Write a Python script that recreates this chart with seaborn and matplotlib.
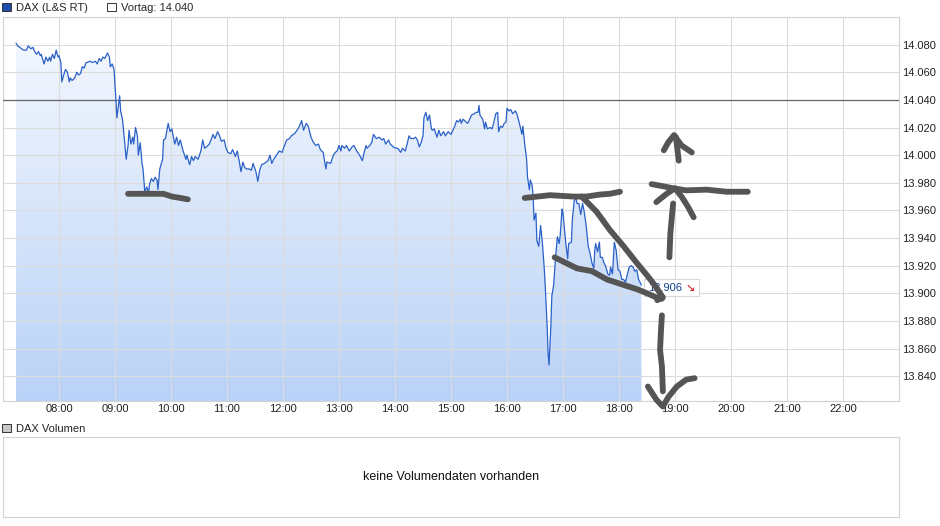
import numpy as np
import pandas as pd
import matplotlib
matplotlib.use("Agg")
import matplotlib.pyplot as plt
import seaborn as sns
from matplotlib.colors import LinearSegmentedColormap
from matplotlib.patches import Patch
from matplotlib.offsetbox import TextArea, HPacker, AnnotationBbox

# ─── DATA ────────────────────────────────────────────────────
times = [
    "07:14", "07:16", "07:22", "07:25", "07:27", "07:30", "07:32", "07:34", "07:36", "07:38",
    "07:40", "07:41", "07:44", "07:46", "07:48", "07:50", "07:51", "07:53", "07:55", "07:57",
    "07:59", "08:00", "08:02", "08:03", "08:05", "08:07", "08:09", "08:11", "08:12", "08:14",
    "08:17", "08:19", "08:21", "08:23", "08:25", "08:27", "08:29", "08:30", "08:33", "08:36",
    "08:39", "08:41", "08:43", "08:45", "08:47", "08:49", "08:52", "08:54", "08:55", "08:57",
    "08:59", "09:00", "09:01", "09:02", "09:04", "09:05", "09:06", "09:08", "09:10", "09:12",
    "09:14", "09:15", "09:17", "09:19", "09:20", "09:22", "09:24", "09:25", "09:27", "09:29",
    "09:30", "09:32", "09:34", "09:36", "09:37", "09:39", "09:41", "09:43", "09:45", "09:46",
    "09:48", "09:51", "09:52", "09:54", "09:57", "09:59", "10:01", "10:02", "10:04", "10:06",
    "10:08", "10:10", "10:11", "10:13", "10:16", "10:17", "10:20", "10:22", "10:24", "10:26",
    "10:29", "10:32", "10:34", "10:36", "10:38", "10:41", "10:44", "10:45", "10:47", "10:50",
    "10:52", "10:54", "10:57", "10:59", "11:01", "11:04", "11:06", "11:09", "11:11", "11:13",
    "11:15", "11:17", "11:19", "11:21", "11:24", "11:26", "11:28", "11:31", "11:33", "11:35",
    "11:37", "11:40", "11:42", "11:44", "11:46", "11:48", "11:50", "11:53", "11:56", "11:59",
    "12:01", "12:04", "12:07", "12:09", "12:13", "12:15", "12:17", "12:20", "12:22", "12:25",
    "12:27", "12:30", "12:32", "12:35", "12:38", "12:40", "12:43", "12:46", "12:47", "12:51",
    "12:54", "12:56", "12:58", "13:00", "13:02", "13:03", "13:06", "13:08", "13:11", "13:14",
    "13:16", "13:19", "13:22", "13:25", "13:27", "13:29", "13:30", "13:33", "13:35", "13:37",
    "13:40", "13:43", "13:46", "13:48", "13:50", "13:53", "13:55", "13:58", "14:01", "14:03",
    "14:06", "14:08", "14:11", "14:13", "14:15", "14:17", "14:20", "14:22", "14:24", "14:26",
    "14:28", "14:30", "14:31", "14:33", "14:35", "14:37", "14:39", "14:40", "14:42", "14:45",
    "14:47", "14:49", "14:52", "14:54", "14:57", "15:00", "15:02", "15:04", "15:06", "15:08",
    "15:10", "15:11", "15:13", "15:16", "15:18", "15:20", "15:22", "15:25", "15:27", "15:29",
    "15:30", "15:31", "15:34", "15:36", "15:37", "15:39", "15:42", "15:44", "15:46", "15:48",
    "15:50", "15:51", "15:53", "15:55", "15:57", "15:59", "16:00", "16:02", "16:04", "16:06",
    "16:09", "16:11", "16:14", "16:16", "16:17", "16:19", "16:21", "16:22", "16:24", "16:25",
    "16:27", "16:28", "16:29", "16:31", "16:32", "16:34", "16:36", "16:38", "16:40", "16:41",
    "16:43", "16:44", "16:45", "16:47", "16:48", "16:50", "16:52", "16:54", "16:56", "16:57",
    "16:59", "17:00", "17:03", "17:05", "17:06", "17:09", "17:10", "17:12", "17:14", "17:15",
    "17:17", "17:19", "17:21", "17:23", "17:25", "17:27", "17:29", "17:31", "17:33", "17:34",
    "17:35", "17:37", "17:39", "17:40", "17:42", "17:44", "17:46", "17:48", "17:50", "17:51",
    "17:53", "17:55", "17:57", "17:59", "18:01", "18:03", "18:05", "18:07", "18:09", "18:11",
    "18:13", "18:15", "18:17", "18:19", "18:21", "18:24",
]
prices = [
    14081, 14079, 14076, 14076, 14079, 14077, 14078, 14075, 14073, 14075,
    14072, 14073, 14066, 14071, 14068, 14071, 14068, 14073, 14070, 14076,
    14071, 14072, 14067, 14053, 14058, 14062, 14060, 14053, 14056, 14054,
    14056, 14060, 14058, 14059, 14064, 14063, 14067, 14067, 14068, 14067,
    14068, 14066, 14070, 14068, 14071, 14070, 14074, 14071, 14064, 14066,
    14062, 14050, 14040, 14027, 14038, 14043, 14032, 14026, 14012, 13997,
    14007, 14018, 14008, 14013, 14008, 14020, 14014, 14000, 14009, 13994,
    13990, 13973, 13977, 13973, 13979, 13983, 13981, 13984, 13982, 13975,
    13990, 13997, 14011, 14012, 14023, 14017, 14019, 14015, 14008, 14013,
    14007, 14011, 14008, 14003, 13997, 14000, 13993, 13999, 13996, 13999,
    13997, 14003, 14011, 14005, 14006, 14008, 14013, 14015, 14012, 14017,
    14014, 14010, 14011, 14005, 14002, 14001, 14004, 13999, 14003, 13996,
    13988, 13995, 13991, 13990, 13990, 13989, 13994, 13988, 13981, 13989,
    13993, 13994, 13995, 13996, 14000, 13994, 13997, 14000, 14003, 14002,
    14006, 14011, 14012, 14014, 14016, 14018, 14020, 14025, 14018, 14023,
    14021, 14013, 14010, 14007, 14008, 14004, 14002, 13990, 13995, 13994,
    14000, 14002, 14003, 14007, 14003, 14007, 14005, 14007, 14003, 14006,
    14007, 14003, 14000, 13996, 14002, 14007, 14005, 14007, 14009, 14015,
    14012, 14013, 14011, 14012, 14008, 14011, 14008, 14006, 14005, 14005,
    14002, 14005, 14003, 14008, 14014, 14012, 14012, 14013, 14011, 14006,
    14009, 14014, 14027, 14031, 14025, 14029, 14019, 14018, 14019, 14013,
    14018, 14014, 14017, 14014, 14017, 14015, 14018, 14021, 14025, 14024,
    14026, 14023, 14026, 14024, 14023, 14026, 14029, 14030, 14031, 14031,
    14036, 14029, 14026, 14019, 14024, 14019, 14020, 14019, 14024, 14030,
    14031, 14017, 14021, 14020, 14023, 14024, 14034, 14032, 14033, 14030,
    14032, 14029, 14021, 14015, 14021, 14008, 13997, 13984, 13975, 13982,
    13978, 13970, 13953, 13958, 13938, 13934, 13949, 13936, 13917, 13905,
    13876, 13857, 13848, 13876, 13898, 13906, 13926, 13941, 13936, 13942,
    13961, 13958, 13936, 13925, 13936, 13937, 13953, 13967, 13969, 13965,
    13965, 13957, 13965, 13958, 13948, 13934, 13929, 13922, 13918, 13931,
    13936, 13930, 13937, 13926, 13926, 13922, 13919, 13914, 13913, 13919,
    13914, 13937, 13931, 13917, 13916, 13910, 13910, 13908, 13914, 13919,
    13920, 13919, 13916, 13917, 13910, 13906,
]
prev_close = 14040
y_ticks = [13840, 13860, 13880, 13900, 13920, 13940, 13960, 13980, 14000, 14020, 14040, 14060, 14080]
x_ticks = ["08:00", "09:00", "10:00", "11:00", "12:00", "13:00", "14:00",
           "15:00", "16:00", "17:00", "18:00", "19:00", "20:00", "21:00", "22:00"]

# hand-drawn marker strokes (time, price)
mark_left = [("09:14", 13972), ("09:34", 13972), ("09:52", 13972), ("10:01", 13970),
             ("10:10", 13969), ("10:18", 13968)]
mark_top = [("16:19", 13969), ("16:46", 13971), ("17:11", 13970), ("17:25", 13970),
            ("17:40", 13971.5), ("17:50", 13972), ("18:01", 13973.5)]
mark_falling = [("17:20", 13970), ("17:36", 13959), ("17:50", 13946), ("18:05", 13934),
                ("18:19", 13922), ("18:30", 13913), ("18:37", 13907), ("18:44", 13900),
                ("18:47", 13897), ("18:41", 13895)]
mark_lower = [("16:51", 13926), ("17:15", 13918), ("17:31", 13916), ("17:47", 13910),
              ("18:05", 13906), ("18:19", 13903), ("18:30", 13900), ("18:40", 13897),
              ("18:46", 13896)]
mark_down_shaft = [("18:46", 13884), ("18:45", 13873.5), ("18:44", 13859), ("18:46", 13847),
                   ("18:47", 13829)]
mark_down_head = [("18:31", 13832.5), ("18:40", 13823), ("18:47", 13818), ("18:53", 13825),
                  ("19:02", 13832.5), ("19:12", 13837.5), ("19:21", 13838.5)]
mark_up_shaft = [("18:54", 13926), ("18:55", 13943), ("18:56", 13950.5), ("18:57", 13958),
                 ("18:58", 13965)]
mark_level = [("18:35", 13979), ("18:47", 13977.5), ("18:58", 13976), ("19:12", 13974.5),
              ("19:34", 13975), ("19:55", 13973.5), ("20:18", 13973.5)]
mark_up_head = [("18:40", 13966), ("18:51", 13972), ("19:00", 13976), ("19:07", 13970),
                ("19:14", 13962.5), ("19:20", 13955)]
mark_top_shaft = [("19:04", 13996), ("19:01", 14013)]
mark_top_head = [("18:48", 14003.5), ("18:53", 14009.5), ("18:59", 14014.5), ("19:07", 14007),
                 ("19:18", 14002)]


def to_hours(s):
    h, m = s.split(":")
    return int(h) + int(m) / 60


df = pd.DataFrame({"time": [to_hours(t) for t in times], "price": prices})
strokes = [mark_left, mark_top, mark_falling, mark_lower, mark_down_shaft, mark_down_head,
           mark_up_shaft, mark_level, mark_up_head, mark_top_shaft, mark_top_head]

# ─── STYLE ───────────────────────────────────────────────────
sns.set_style("white")
plt.rcParams["font.family"] = ["Liberation Sans", "DejaVu Sans"]

line_color = "#2a61c8"
grid_color = "#dcdcdc"
frame_color = "#d2d2d2"
y_min, y_max = 13822, 14100
x_min, x_max = 7.0, 23.0

fig = plt.figure(figsize=(9.4, 5.26), dpi=100)
ax = fig.add_axes([3 / 940, 125 / 526, 896 / 940, 384 / 526])
vax = fig.add_axes([3 / 940, 9 / 526, 896 / 940, 80 / 526])

# ─── PRICE CHART ─────────────────────────────────────────────
# gradient area under the line
area = ax.fill_between(df["time"], df["price"], y_min, color="none", linewidth=0)
cmap = LinearSegmentedColormap.from_list("area", ["#f7f9fe", "#b9d2f7"])
grad = np.linspace(0, 1, 256).reshape(-1, 1)
img = ax.imshow(grad, extent=[x_min, x_max, y_min, y_max], origin="upper",
                aspect="auto", cmap=cmap, zorder=0.3)
img.set_clip_path(area.get_paths()[0], transform=ax.transData)

sns.lineplot(data=df, x="time", y="price", ax=ax, color=line_color, linewidth=0.9,
             estimator=None, sort=False, zorder=3)

# grid sits above the area (axis zorder 2.5), Vortag line above the grid
ax.axhline(prev_close, color="#666666", linewidth=0.9, zorder=2.8)

for stroke in strokes:
    sx = [to_hours(t) for t, _ in stroke]
    sy = [v for _, v in stroke]
    ax.plot(sx, sy, color="#555555", linewidth=4.2, solid_capstyle="round",
            solid_joinstyle="round", zorder=6, clip_on=False)

ax.set_xlim(x_min, x_max)
ax.set_ylim(y_min, y_max)
ax.set_xticks([to_hours(t) for t in x_ticks])
ax.set_xticklabels(x_ticks)
ax.set_yticks(y_ticks)
ax.set_yticklabels([f"{v:,.0f}".replace(",", ".") for v in y_ticks])
ax.yaxis.tick_right()
ax.tick_params(axis="both", length=0, labelsize=8, labelcolor="#222222")
ax.tick_params(axis="x", pad=2)
ax.tick_params(axis="y", pad=2.5)
ax.grid(True, color=grid_color, linewidth=0.8)
ax.set_axisbelow(False)
ax.set_xlabel("")
ax.set_ylabel("")
for sp in ax.spines.values():
    sp.set_color(frame_color)
    sp.set_linewidth(0.8)

# last price label
last_t, last_v = df["time"].iloc[-1], df["price"].iloc[-1]
label = HPacker(children=[
    TextArea(f"{last_v:,.0f}".replace(",", "."), textprops=dict(color="#123f8f", fontsize=8)),
    TextArea("\u2198", textprops=dict(color="#e00000", fontsize=8, family="DejaVu Sans")),
], sep=3, align="center")
ab = AnnotationBbox(label, (last_t, last_v), xybox=(4.5, -2), xycoords="data",
                    boxcoords="offset points", box_alignment=(0, 0.5), frameon=True,
                    pad=0.25, zorder=5,
                    bboxprops=dict(edgecolor="#d8d8d8", facecolor="white", linewidth=0.8))
ax.add_artist(ab)

fig.legend(handles=[Patch(facecolor="#1d4fae", edgecolor="#333333", linewidth=0.7),
                    Patch(facecolor="white", edgecolor="#333333", linewidth=0.7)],
           labels=["DAX (L&S RT)", "Vortag: 14.040"], ncol=2, loc="upper left",
           bbox_to_anchor=(0.0, 0.999), frameon=False, fontsize=8, handlelength=0.75,
           handleheight=0.75, handletextpad=0.45, columnspacing=1.8, borderpad=0.2,
           borderaxespad=0)

# ─── VOLUME PANEL ────────────────────────────────────────────
vax.set_xticks([])
vax.set_yticks([])
for sp in vax.spines.values():
    sp.set_color(frame_color)
    sp.set_linewidth(0.8)
vax.text(0.5, 0.5, "keine Volumendaten vorhanden", transform=vax.transAxes,
         ha="center", va="center", fontsize=9, color="#111111")
fig.legend(handles=[Patch(facecolor="#c8c8c8", edgecolor="#333333", linewidth=0.7)],
           labels=["DAX Volumen"], loc="upper left", bbox_to_anchor=(0.0, 104 / 526),
           frameon=False, fontsize=8, handlelength=0.75, handleheight=0.75,
           handletextpad=0.45, borderpad=0.2, borderaxespad=0)

fig.savefig("out.png", dpi=100)
